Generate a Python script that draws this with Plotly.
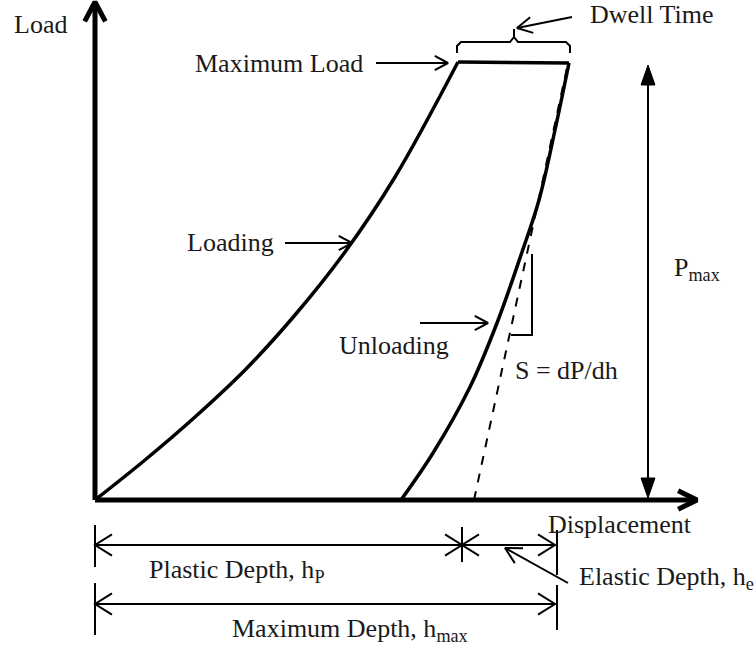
import math
import plotly.graph_objects as go

# ---- data (displacement h, load P) in drawing units ----
loading_h = [0, 50, 100, 150, 200, 250, 300, 363]
loading_P = [0, 40, 83, 130, 185, 248, 323, 438]

dwell_h = [363, 474]
dwell_P = [438, 437]

unloading_h = [474, 460, 444, 426, 402, 375, 338, 306]
unloading_P = [437, 370, 300, 245, 177, 113, 47, 0]

tangent_h = [379, 473]
tangent_P = [0, 437]

slope_tri_h = [416, 437, 437]
slope_tri_P = [165, 165, 246]

brace_h = [362, 362, 366, 415, 419, 419, 419, 423, 471, 475, 475]
brace_P = [447, 454, 458, 458, 463, 471, 463, 458, 458, 454, 447]

x_axis_end = 602
y_axis_end = 498
p_max_h = 553
p_max_top = 435
h_p = 367       # plastic depth
h_max = 460     # maximum depth
dim_row1 = -45
dim_row2 = -104

fig = go.Figure()
BLACK = "#000000"
TXT = "#1a1a1a"
FONT = "Liberation Serif"


def line(xs, ys, w=2.0, dash=None, shape="linear"):
    fig.add_trace(go.Scatter(x=xs, y=ys, mode="lines",
                             line=dict(color=BLACK, width=w, dash=dash, shape=shape),
                             hoverinfo="skip"))


def chevron(tx, ty, dx, dy, L=20, ang=30, w=2.0):
    n = math.hypot(dx, dy)
    ux, uy = dx / n, dy / n
    pts_x, pts_y = [], []
    for s in (1, -1):
        a = math.radians(ang) * s
        rx = ux * math.cos(a) - uy * math.sin(a)
        ry = ux * math.sin(a) + uy * math.cos(a)
        pts_x.append(tx - L * rx)
        pts_y.append(ty - L * ry)
    line([pts_x[0], tx, pts_x[1]], [pts_y[0], ty, pts_y[1]], w=w)


def arrow(x0, y0, x1, y1, w=2.0, L=15, ang=28):
    line([x0, x1], [y0, y1], w=w)
    chevron(x1, y1, x1 - x0, y1 - y0, L=L, ang=ang, w=w)


def filled_head(tx, ty, dirn, L=20, half=7):
    by = ty - dirn * L
    fig.add_trace(go.Scatter(x=[tx, tx - half, tx + half, tx], y=[ty, by, by, ty],
                             mode="lines", fill="toself", fillcolor=BLACK,
                             line=dict(color=BLACK, width=1), hoverinfo="skip"))


# axes
line([0, 0], [0, y_axis_end - 3], w=5)
chevron(0, y_axis_end, 0, 1, L=22, ang=28, w=5)
line([0, x_axis_end - 3], [0, 0], w=5)
chevron(x_axis_end, 0, 1, 0, L=21, ang=26, w=5)

# curves
line(loading_h, loading_P, w=3.5, shape="spline")
line(dwell_h, dwell_P, w=3.5)
line(tangent_h, tangent_P, w=2, dash="dash")
line(unloading_h, unloading_P, w=3.5, shape="spline")
line(slope_tri_h, slope_tri_P, w=2)
line(brace_h, brace_P, w=2)

# P max double arrow
line([p_max_h, p_max_h], [14, p_max_top - 12], w=2)
filled_head(p_max_h, p_max_top, 1)
filled_head(p_max_h, 2, -1)

# pointer arrows
arrow(281, 437, 353, 437)
arrow(190, 257, 257, 257)
arrow(325, 177, 393, 177)
arrow(477, 483, 422, 472, L=17, ang=28)

# dimension lines
line([0, h_max], [dim_row1, dim_row1], w=2)
line([0, h_max], [dim_row2, dim_row2], w=2)
line([0, 0], [-25, -67], w=2)
line([0, 0], [-83, -135], w=2)
line([h_p, h_p], [-27, -62], w=2)
line([h_max + 2, h_max + 2], [-30, -75], w=2)
line([h_max + 2, h_max + 2], [-85, -130], w=2)
chevron(0, dim_row1, -1, 0, L=20, ang=32)
chevron(h_p, dim_row1, 1, 0, L=20, ang=32)
chevron(h_p, dim_row1, -1, 0, L=20, ang=32)
chevron(h_max, dim_row1, 1, 0, L=20, ang=32)
chevron(0, dim_row2, -1, 0, L=20, ang=32)
chevron(h_max, dim_row2, 1, 0, L=20, ang=32)
arrow(473, -83, 410, -48, L=18, ang=28)

# labels
labels = [
    ("Load", -83, 476),
    ("Dwell Time", 493, 486),
    ("Maximum Load", 98, 437),
    ("Loading", 90, 258),
    ("Unloading", 242, 155),
    ("S = dP/dh", 418, 130),
    ("P<sub>max</sub>", 577, 231),
    ("Displacement", 451, -24),
    ("Plastic Depth, h<sub>P</sub>", 52, -71),
    ("Elastic Depth, h<sub>e</sub>", 482, -78),
    ("Maximum Depth, h<sub>max</sub>", 135, -130),
]
for t, x, y in labels:
    fig.add_annotation(x=x, y=y, text=t, showarrow=False, xanchor="left",
                       yanchor="middle", font=dict(family=FONT, size=26, color=TXT))

fig.update_layout(
    width=756, height=650, margin=dict(l=0, r=0, t=0, b=0),
    paper_bgcolor="white", plot_bgcolor="white", showlegend=False,
    xaxis=dict(range=[-95, 661], visible=False, fixedrange=True),
    yaxis=dict(range=[-150, 500], visible=False, fixedrange=True),
)
fig.write_html("out.html", config={"displayModeBar": False},
               post_script="document.body.style.margin='0px';document.body.style.overflow='hidden';")
